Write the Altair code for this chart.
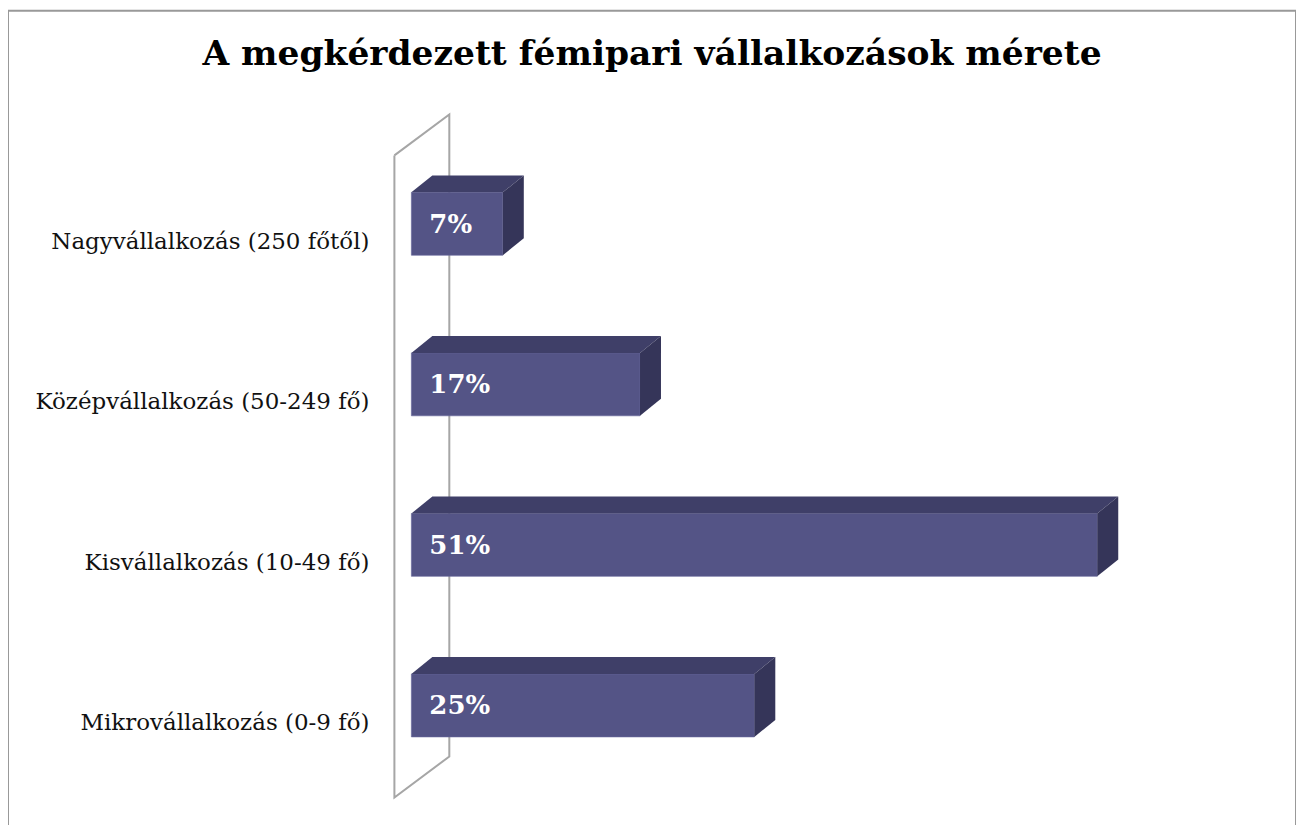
import altair as alt
import pandas as pd

# ---- data ----
categories = ["Nagyvállalkozás (250 főtől)", "Középvállalkozás (50-249 fő)",
              "Kisvállalkozás (10-49 fő)", "Mikrovállalkozás (0-9 fő)"]
values = [6.8, 17.0, 51.0, 25.5]
labels = ["7%", "17%", "51%", "25%"]
title_text = "A megkérdezett fémipari vállalkozások mérete"

# ---- geometry (pixels -> data units) ----
W, H = 1290, 840
PLOT_LEFT, PLOT_TOP = 8, 10          # page position of plot area
ZERO_PX = 412 - PLOT_LEFT            # local x of 0 %
PPU = 13.47                          # px per percent
ROW0 = 223.5 - PLOT_TOP              # local y of first row centre
ROW_STEP = 160.8                     # px per row
x_dom = [-ZERO_PX / PPU, (W - ZERO_PX) / PPU]
y_dom = [-ROW0 / ROW_STEP, (H - ROW0) / ROW_STEP]

def xu(px_page):
    return (px_page - PLOT_LEFT - ZERO_PX) / PPU

def yu(py_page):
    return (py_page - PLOT_TOP - ROW0) / ROW_STEP

half = 31.5 / ROW_STEP
ddx = 21 / PPU
ddy = 17 / ROW_STEP

xs = alt.Scale(domain=x_dom, nice=False, zero=False)
ys = alt.Scale(domain=y_dom, nice=False, zero=False, reverse=True)

front = pd.DataFrame({
    "cat": categories, "v": values, "lab": labels,
    "i": list(range(len(categories))),
})
front["y0"] = front["i"] - half
front["y1"] = front["i"] + half
front["x0"] = 0.0

top_rows, side_rows = [], []
for i, (c, v) in enumerate(zip(categories, values)):
    t = i - half
    # top face as a vertical range-area: lower edge (front) / upper edge (back)
    top_rows.append({"cat": c, "px": 0.0, "ya": t, "yb": t})
    top_rows.append({"cat": c, "px": ddx, "ya": t, "yb": t - ddy})
    top_rows.append({"cat": c, "px": v, "ya": t, "yb": t - ddy})
    top_rows.append({"cat": c, "px": v + ddx, "ya": t - ddy, "yb": t - ddy})
    side_rows.append({"cat": c, "px": v, "ya": i - half, "yb": i + half})
    side_rows.append({"cat": c, "px": v + ddx, "ya": i - half - ddy, "yb": i + half - ddy})
top_df = pd.DataFrame(top_rows)
side_df = pd.DataFrame(side_rows)

wall_df = pd.DataFrame({
    "o": [0, 1, 2, 3, 4],
    "x": [xu(395), xu(450), xu(450), xu(395), xu(395)],
    "y": [yu(155), yu(114), yu(757), yu(798), yu(155)],
})

SERIF = "DejaVu Serif"

wall = alt.Chart(wall_df).mark_line(color="#a6a6a6", strokeWidth=2).encode(
    x=alt.X("x:Q", scale=xs, axis=None),
    y=alt.Y("y:Q", scale=ys, axis=None),
    order="o:Q",
)

front_face = alt.Chart(front).mark_rect(color="#545486", stroke="#66669a", strokeWidth=0.6).encode(
    x=alt.X("x0:Q", scale=xs, axis=None),
    x2="v:Q",
    y=alt.Y("y0:Q", scale=ys, axis=None),
    y2="y1:Q",
)

def face(df, colour):
    return alt.Chart(df).mark_area(color=colour, opacity=1).encode(
        x=alt.X("px:Q", scale=xs, axis=None),
        y=alt.Y("ya:Q", scale=ys, axis=None),
        y2="yb:Q",
        detail="cat:N",
    )

top_face = face(top_df, "#3f3f68")
side_face = face(side_df, "#353559")

val_text = alt.Chart(front).mark_text(
    align="left", baseline="middle", font=SERIF, fontWeight="bold",
    fontSize=26, color="white", dy=1,
).encode(
    x=alt.X("xt:Q", scale=xs, axis=None),
    y=alt.Y("i:Q", scale=ys, axis=None),
    text="lab:N",
).transform_calculate(xt=str(xu(430)))

cat_text = alt.Chart(front).mark_text(
    align="right", baseline="middle", font=SERIF, fontSize=23, color="#111111", dy=18,
).encode(
    x=alt.X("xc:Q", scale=xs, axis=None),
    y=alt.Y("i:Q", scale=ys, axis=None),
    text="cat:N",
).transform_calculate(xc=str(xu(370)))

title = alt.Chart(pd.DataFrame({"t": [title_text]})).mark_text(
    align="center", baseline="alphabetic", font=SERIF, fontWeight="bold",
    fontSize=34.5, color="black",
).encode(
    x=alt.value(653 - PLOT_LEFT),
    y=alt.value(64 - PLOT_TOP),
    text="t:N",
)

chart = alt.layer(wall, front_face, top_face, side_face, val_text, cat_text, title).properties(
    width=W, height=H,
    autosize=alt.AutoSizeParams(type="none"),
    padding={"left": 0, "top": 2, "right": 0, "bottom": 0},
).configure_view(stroke="#999999", strokeWidth=2)

chart.save("out.html", embed_options={"renderer": "svg", "actions": False})
